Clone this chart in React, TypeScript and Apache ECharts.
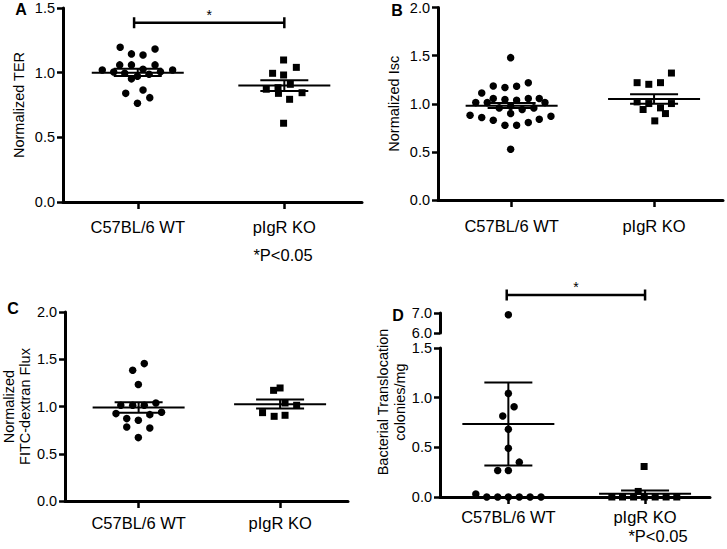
import React, { useEffect, useRef } from "react";
import * as echarts from "echarts";

const FONT = "'Liberation Sans', Arial, Helvetica, sans-serif";

const CATEGORIES = ["C57BL/6 WT", "pIgR KO"];
const CATEGORY_POS = [1, 2];

// Each point: [group position incl. horizontal scatter offset, value]
const A_WT = [
  [0.88, 1.196], [0.957, 1.145], [1.036, 1.137], [1.118, 1.183],
  [0.758, 1.02], [0.877, 1.06], [0.957, 1.06], [1.036, 1.026], [1.118, 1.06],
  [0.836, 1.005], [0.911, 0.995], [0.957, 0.952], [0.998, 0.972], [1.077, 0.988],
  [1.155, 1.008], [1.238, 1.02], [0.918, 0.84], [1.036, 0.866], [1.082, 0.807], [0.998, 0.763],
];
const A_KO = [
  [1.995, 1.098], [2.082, 1.041], [1.92, 0.995], [1.995, 0.982], [2.041, 0.91],
  [1.877, 0.872], [1.957, 0.884], [1.96, 0.84], [2.121, 0.845], [2.036, 0.794], [1.995, 0.609],
];
// [group, mean, mean - SEM, mean + SEM]
const A_STATS = [[1, 1.0, 0.975, 1.03], [2, 0.9, 0.858, 0.942]];
// [from group, to group, level]
const A_BRACKET = [0.975, 2, 1.386];

const B_WT = [
  [0.993, 1.479], [0.79, 1.112], [0.871, 1.185], [0.953, 1.168], [1.035, 1.181], [1.117, 1.219],
  [0.748, 1.012], [0.829, 1.012], [0.871, 1.054], [0.953, 1.043], [1.035, 1.036], [1.117, 1.054],
  [1.194, 1.054], [1.234, 1.012], [0.913, 0.957], [0.993, 0.974], [1.074, 0.94], [1.156, 0.957],
  [0.708, 0.881], [0.79, 0.857], [0.871, 0.829], [0.993, 0.898], [0.953, 0.777], [1.035, 0.777],
  [1.117, 0.805], [1.194, 0.839], [1.276, 0.87], [0.993, 0.528],
];
const B_KO = [
  [2.122, 1.319], [1.881, 1.219], [1.963, 1.202], [2.045, 1.219], [1.881, 1.019], [1.963, 1.002],
  [2.122, 1.002], [1.923, 0.94], [2.045, 0.957], [2.08, 0.898], [2.005, 0.822],
];
const B_STATS = [[1, 0.98, 0.955, 1.008], [2, 1.05, 1.0, 1.1]];

const C_WT = [
  [1.04, 1.454], [0.958, 1.383], [0.998, 1.232], [0.874, 1.013], [0.958, 1.013], [1.04, 1.013],
  [1.122, 1.037], [0.84, 0.925], [1.079, 0.914], [1.162, 0.939], [0.916, 0.872], [0.998, 0.854],
  [0.916, 0.783], [1.079, 0.773], [0.998, 0.671],
];
const C_KO = [
  [1.954, 1.171], [2.0, 1.196], [2.035, 1.037], [2.117, 1.013], [1.876, 0.935], [1.958, 0.896], [2.035, 0.907],
];
const C_STATS = [[1, 0.99, 0.935, 1.045], [2, 1.023, 0.978, 1.073]];

const D_WT = [
  [1.0, 6.91], [1.0, 1.043], [1.042, 0.909], [0.959, 0.815], [1.0, 0.682], [1.0, 0.491],
  [1.08, 0.351], [0.922, 0.267], [1.0, 0.267], [0.762, 0.03], [0.842, 0.0], [0.922, 0.0],
  [1.0, 0.0], [1.08, 0.0], [1.159, 0.0], [1.239, 0.0],
];
const D_KO = [
  [1.993, 0.307], [1.95, 0.056], [1.757, 0.0], [1.835, 0.0], [1.916, 0.0], [1.994, 0.0],
  [2.074, 0.0], [2.154, 0.0], [2.232, 0.0],
];
const D_STATS = [[1, 0.735, 0.317, 1.153], [2, 0.033, 0.001, 0.065]];
const D_BRACKET = [0.988, 2, 7.9];
const D_BREAK = 1.5;

const MEAN_HALF = 46;
const SEM_HALF = 24;

function renderStats(params: any, api: any) {
  const x = api.value(0);
  const pm = api.coord([x, api.value(1)]);
  const pl = api.coord([x, api.value(2)]);
  const ph = api.coord([x, api.value(3)]);
  const style = { stroke: "#000", lineWidth: 2 };
  return {
    type: "group",
    children: [
      { type: "line", shape: { x1: pm[0] - MEAN_HALF, y1: pm[1], x2: pm[0] + MEAN_HALF, y2: pm[1] }, style },
      { type: "line", shape: { x1: pl[0] - SEM_HALF, y1: pl[1], x2: pl[0] + SEM_HALF, y2: pl[1] }, style },
      { type: "line", shape: { x1: ph[0] - SEM_HALF, y1: ph[1], x2: ph[0] + SEM_HALF, y2: ph[1] }, style },
      { type: "line", shape: { x1: pl[0], y1: pl[1], x2: ph[0], y2: ph[1] }, style },
    ],
  };
}

function renderBracket(params: any, api: any) {
  const lvl = api.value(2);
  const p1 = api.coord([api.value(0), lvl]);
  const p2 = api.coord([api.value(1), lvl]);
  const style = { stroke: "#000", lineWidth: 2.5 };
  return {
    type: "group",
    children: [
      { type: "line", shape: { x1: p1[0], y1: p1[1], x2: p2[0], y2: p2[1] }, style },
      { type: "line", shape: { x1: p1[0], y1: p1[1] - 5.5, x2: p1[0], y2: p1[1] + 5.5 }, style },
      { type: "line", shape: { x1: p2[0], y1: p2[1] - 5.5, x2: p2[0], y2: p2[1] + 5.5 }, style },
      {
        type: "text",
        x: (p1[0] + p2[0]) / 2,
        y: p1[1] - 8,
        style: { text: "*", fontSize: 14, fontFamily: FONT, fill: "#000", align: "center", verticalAlign: "middle" },
      },
    ],
  };
}

function xAxisFor(gridIndex: number, min: number, max: number, margin: number, show = true) {
  return {
    type: "value",
    gridIndex,
    min,
    max,
    show,
    axisLine: { show: true, onZero: false, lineStyle: { color: "#000", width: 3 } },
    axisTick: { show: true, customValues: CATEGORY_POS, length: 7, lineStyle: { color: "#000", width: 2.5 } },
    axisLabel: {
      show: true,
      customValues: CATEGORY_POS,
      margin,
      fontSize: 16.5,
      color: "#000",
      fontFamily: FONT,
      formatter: (v: number) => {
        const i = CATEGORY_POS.indexOf(v);
        return i >= 0 ? CATEGORIES[i] : "";
      },
    },
    splitLine: { show: false },
  };
}

function yAxisFor(gridIndex: number, min: number, max: number, interval: number, name: string, nameGap: number) {
  return {
    type: "value",
    gridIndex,
    min,
    max,
    interval,
    name,
    nameLocation: "middle",
    nameGap,
    nameTextStyle: { fontSize: 14.5, color: "#000", fontFamily: FONT, lineHeight: 16 },
    axisLine: { show: true, lineStyle: { color: "#000", width: 3 } },
    axisTick: { show: true, length: 6, lineStyle: { color: "#000", width: 2.5 } },
    axisLabel: { fontSize: 14.5, color: "#000", fontFamily: FONT, margin: 8, formatter: (v: number) => v.toFixed(1) },
    splitLine: { show: false },
  };
}

function scatter(idx: number, data: number[][], symbol: string, size: number) {
  return {
    type: "scatter",
    xAxisIndex: idx,
    yAxisIndex: idx,
    data,
    symbol,
    symbolSize: size,
    itemStyle: { color: "#000", opacity: 1 },
    z: 2,
  };
}

function stats(idx: number, data: number[][]) {
  return { type: "custom", xAxisIndex: idx, yAxisIndex: idx, data, renderItem: renderStats, z: 3 };
}

function bracket(idx: number, b: number[]) {
  return { type: "custom", xAxisIndex: idx, yAxisIndex: idx, data: [b], renderItem: renderBracket, z: 3, clip: false };
}

function textEl(text: string, x: number, y: number, fontSize: number, bold = false, extra: any = {}) {
  return {
    type: "text",
    x,
    y,
    ...extra,
    style: {
      text,
      fontSize,
      fontWeight: bold ? "bold" : "normal",
      fontFamily: FONT,
      fill: "#000",
      align: "center",
      verticalAlign: "middle",
      lineHeight: 17,
    },
  };
}

export default function App() {
  const ref = useRef<HTMLDivElement>(null);

  useEffect(() => {
    if (!ref.current) return;
    const chart = echarts.init(ref.current, null, { renderer: "svg" });
    const dLow = D_WT.filter((p) => p[1] <= D_BREAK);
    const dHigh = D_WT.filter((p) => p[1] > D_BREAK);
    chart.setOption({
      animation: false,
      backgroundColor: "#fff",
      textStyle: { fontFamily: FONT },
      grid: [
        { left: 63, top: 8, width: 299, height: 194 },
        { left: 438, top: 7, width: 285, height: 193 },
        { left: 63, top: 312, width: 285, height: 189 },
        { left: 440, top: 348, width: 270, height: 149 },
        { left: 440, top: 313, width: 270, height: 20 },
      ],
      xAxis: [
        xAxisFor(0, 0.49, 2.53, 16),
        xAxisFor(1, 0.483, 2.484, 17),
        xAxisFor(2, 0.48, 2.48, 13),
        xAxisFor(3, 0.5, 2.475, 11),
        xAxisFor(4, 0.5, 2.475, 11, false),
      ],
      yAxis: [
        yAxisFor(0, 0, 1.5, 0.5, "Normalized TER", 36),
        yAxisFor(1, 0, 2, 0.5, "Normalized Isc", 36),
        yAxisFor(2, 0, 2, 0.5, "Normalized\nFITC-dextran Flux", 30),
        yAxisFor(3, 0, 1.5, 0.5, "", 0),
        yAxisFor(4, 6, 7, 1, "", 0),
      ],
      series: [
        scatter(0, A_WT, "circle", 7.5),
        scatter(0, A_KO, "rect", 7),
        stats(0, A_STATS),
        bracket(0, A_BRACKET),
        scatter(1, B_WT, "circle", 7.5),
        scatter(1, B_KO, "rect", 7),
        stats(1, B_STATS),
        scatter(2, C_WT, "circle", 7.5),
        scatter(2, C_KO, "rect", 7),
        stats(2, C_STATS),
        scatter(3, dLow, "circle", 7.5),
        scatter(3, D_KO, "rect", 7),
        stats(3, D_STATS),
        scatter(4, dHigh, "circle", 7.5),
        bracket(4, D_BRACKET),
      ],
      graphic: [
        textEl("A", 21, 9, 16, true),
        textEl("B", 397, 10, 16, true),
        textEl("C", 13, 308, 16, true),
        textEl("D", 398, 315, 16, true),
        textEl("*P<0.05", 283, 255, 16.5),
        textEl("*P<0.05", 658, 536, 16.5),
        textEl("Bacterial Translocation\ncolonies/mg", 391.5, 402, 14.5, false, { rotation: Math.PI / 2 }),
      ],
    });
    return () => chart.dispose();
  }, []);

  return <div ref={ref} style={{ position: "absolute", left: 0, top: 0, width: 727, height: 549 }} />;
}
